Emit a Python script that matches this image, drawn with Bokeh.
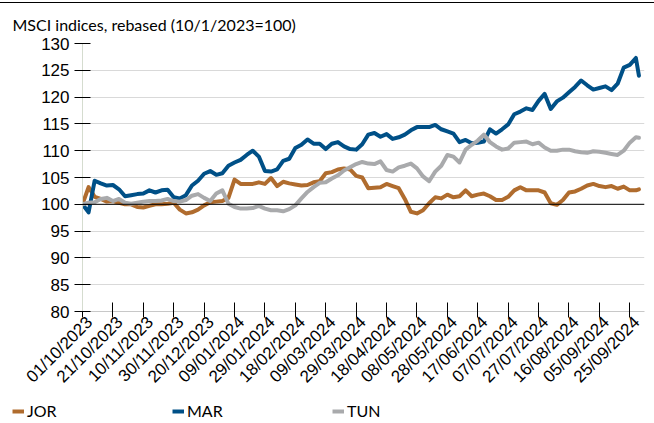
import math
import pandas as pd
from bokeh.plotting import figure
from bokeh.layouts import column
from bokeh.models import (Range1d, FixedTicker, DatetimeTickFormatter, Span, Legend,
                          LegendItem, DatetimeAxis, CustomJSTickFormatter)
from bokeh.embed import file_html
from bokeh.resources import INLINE

# ---------------- data ----------------
dates = list(pd.date_range("2023-10-01", periods=92, freq="4D")) + [pd.Timestamp("2024-10-01")]

jor = [100.0, 103.2, 101.4, 101.0, 100.5, 100.6, 100.3, 100.0, 100.0, 99.5,
       99.4, 99.7, 100.0, 100.0, 100.1, 100.3, 99.0, 98.3, 98.5, 99.0,
       99.8, 100.4, 100.5, 100.6, 101.2, 104.6, 103.8, 103.8, 103.8, 104.1,
       103.8, 104.9, 103.4, 104.2, 103.9, 103.7, 103.5, 103.6, 104.1, 104.3,
       105.8, 106.0, 106.5, 106.7, 106.5, 105.3, 105.0, 103.0, 103.1, 103.2,
       103.8, 103.4, 103.0, 101.0, 98.6, 98.3, 98.9, 100.2, 101.3, 101.1,
       101.8, 101.3, 101.5, 102.6, 101.5, 101.8, 102.0, 101.5, 100.8, 100.8,
       101.4, 102.6, 103.2, 102.6, 102.6, 102.6, 102.2, 100.2, 99.9, 100.8,
       102.2, 102.4, 102.9, 103.5, 103.8, 103.4, 103.2, 103.4, 102.9, 103.3,
       102.6, 102.6, 102.8]

mar = [100.0, 98.5, 104.4, 103.9, 103.5, 103.6, 102.8, 101.5, 101.7, 101.9,
       102.0, 102.6, 102.2, 102.6, 102.7, 101.3, 101.1, 101.7, 103.5, 104.4,
       105.7, 106.2, 105.5, 105.8, 107.2, 107.8, 108.3, 109.2, 110.0, 108.9,
       106.2, 106.1, 106.5, 108.1, 108.5, 110.5, 111.1, 112.1, 111.3, 111.3,
       110.3, 111.3, 111.6, 110.8, 110.3, 110.2, 111.2, 113.0, 113.3, 112.6,
       113.1, 112.2, 112.5, 113.0, 113.8, 114.4, 114.4, 114.4, 114.8, 114.0,
       113.6, 113.2, 111.6, 112.0, 111.4, 111.5, 111.7, 114.0, 113.2, 114.0,
       114.9, 116.8, 117.3, 117.9, 117.6, 119.3, 120.6, 117.8, 119.2, 119.9,
       120.9, 121.9, 123.1, 122.2, 121.4, 121.7, 122.0, 121.3, 122.5, 125.5,
       126.0, 127.3, 124.0]

tun = [100.0, 100.3, 100.4, 101.0, 101.2, 100.6, 101.0, 100.3, 100.1, 100.3,
       100.5, 100.6, 100.6, 100.7, 101.0, 100.6, 100.5, 100.8, 101.6, 101.9,
       101.2, 100.6, 102.0, 102.6, 100.1, 99.5, 99.2, 99.2, 99.3, 99.7,
       99.2, 98.9, 98.9, 98.7, 99.1, 99.8, 101.1, 102.3, 103.2, 104.0,
       104.1, 104.8, 105.4, 106.3, 106.9, 107.5, 107.9, 107.6, 107.5, 108.0,
       106.4, 106.1, 106.9, 107.2, 107.6, 106.7, 105.2, 104.3, 106.1, 107.2,
       109.2, 108.9, 107.8, 110.2, 111.1, 111.9, 113.0, 111.6, 110.8, 110.2,
       110.4, 111.5, 111.6, 111.7, 111.2, 111.5, 110.6, 110.0, 110.0, 110.2,
       110.2, 109.9, 109.7, 109.6, 109.9, 109.8, 109.6, 109.4, 109.2, 110.0,
       111.5, 112.5, 112.4]

series_names = ["JOR", "MAR", "TUN"]
series_colors = ["#B06C2E", "#005087", "#A9AAAC"]

tick_dates = ["2023-10-01", "2023-10-21", "2023-11-10", "2023-11-30", "2023-12-20",
              "2024-01-09", "2024-01-29", "2024-02-18", "2024-03-09", "2024-03-29",
              "2024-04-18", "2024-05-08", "2024-05-28", "2024-06-17", "2024-07-07",
              "2024-07-27", "2024-08-16", "2024-09-05", "2024-09-25"]
y_ticks = [80, 85, 90, 95, 100, 105, 110, 115, 120, 125, 130]

title_text = "MSCI indices, rebased (10/1/2023=100)"

X_START = pd.Timestamp("2023-10-01")
X_END = pd.Timestamp("2024-10-04 16:00")
LABEL_SHIFT = pd.Timedelta(days=4.6)

# ---------------- main chart ----------------
p = figure(width=654, height=397, output_backend="svg", toolbar_location=None,
           x_axis_type="datetime",
           x_range=Range1d(X_START, X_END), y_range=Range1d(80, 130),
           min_border_left=82, min_border_right=10, min_border_top=38, min_border_bottom=89)
p.styles = {"margin-top": "2px", "border-top": "1px solid black"}
p.outline_line_color = None
p.background_fill_color = "white"
p.border_fill_color = "white"

p.title.text = title_text
p.title.align = "left"
p.title.offset = -70
p.title.text_font = "Lato"
p.title.text_font_size = "16px"
p.title.text_font_style = "normal"
p.title.text_color = "black"
p.title.standoff = 19

p.xgrid.grid_line_color = None
p.ygrid.grid_line_color = "#D9D9D9"
p.ygrid.grid_line_width = 1
p.ygrid.ticker = FixedTicker(ticks=y_ticks)

p.yaxis.ticker = FixedTicker(ticks=y_ticks)
p.yaxis.axis_line_color = "#D5DCCF"
p.yaxis.major_tick_line_color = "black"
p.yaxis.major_tick_out = 8
p.yaxis.major_tick_in = 8
p.yaxis.minor_tick_line_color = None
p.yaxis.major_label_text_font = "Liberation Sans"
p.yaxis.major_label_text_font_size = "17px"
p.yaxis.major_label_text_color = "black"
p.yaxis.major_label_standoff = 5

tick_ms = [pd.Timestamp(d).timestamp() * 1000 for d in tick_dates]

# axis with tick marks only
p.xaxis.ticker = FixedTicker(ticks=tick_ms)
p.xaxis.formatter = CustomJSTickFormatter(code="return ''")
p.xaxis.major_label_text_font_size = "0px"
p.xaxis.major_label_standoff = 0
p.xaxis.axis_line_color = "#C8C8C8"
p.xaxis.major_tick_line_color = "black"
p.xaxis.major_tick_in = 9
p.xaxis.major_tick_out = 6
p.xaxis.minor_tick_line_color = None

# axis carrying the rotated labels (slightly shifted, as in the reference)
p.extra_x_ranges = {"lab": Range1d(X_START - LABEL_SHIFT, X_END - LABEL_SHIFT)}
fmt = "%d/%m/%Y"
lab_axis = DatetimeAxis(x_range_name="lab", ticker=FixedTicker(ticks=tick_ms),
                        formatter=DatetimeTickFormatter(days=fmt, months=fmt, years=fmt,
                                                        hours=fmt, minutes=fmt, seconds=fmt,
                                                        milliseconds=fmt, microseconds=fmt,
                                                        minsec=fmt, hourmin=fmt,
                                                        strip_leading_zeros=False))
lab_axis.axis_line_color = None
lab_axis.major_tick_line_color = None
lab_axis.minor_tick_line_color = None
lab_axis.major_tick_in = 0
lab_axis.major_tick_out = 0
lab_axis.major_label_orientation = math.pi / 4
lab_axis.major_label_text_font = "Liberation Sans"
lab_axis.major_label_text_font_size = "17px"
lab_axis.major_label_text_color = "black"
lab_axis.major_label_standoff = 2
p.add_layout(lab_axis, "below")

p.add_layout(Span(location=100, dimension="width", line_color="black", line_width=1))

for vals, col in zip([jor, mar, tun], series_colors):
    p.line(dates, vals, line_color=col, line_width=4, line_join="round", line_cap="round")

# ---------------- legend strip (own canvas, so nothing is clipped) ----------------
leg = figure(width=654, height=23, output_backend="svg", toolbar_location=None,
             x_axis_location=None, y_axis_location=None,
             x_range=Range1d(0, 1), y_range=Range1d(0, 1),
             min_border_left=0, min_border_right=0, min_border_top=0, min_border_bottom=0,
             outline_line_color=None, background_fill_color="white", border_fill_color="white")
leg.grid.visible = False
for fig in (p, leg):
    try:
        fig.frame_align = False
    except Exception:
        pass

items = []
for name, vals, col in zip(series_names, [jor, mar, tun], series_colors):
    # same series, outside this strip's ranges: only its legend swatch is seen
    r = leg.line(dates, vals, line_color=col, line_width=4)
    items.append(LegendItem(label=name, renderers=[r]))
legend = Legend(items=items, orientation="horizontal", location=(12, 2),
                glyph_width=12, glyph_height=16, label_height=16, label_width=140,
                label_standoff=3, spacing=5, padding=0, margin=0,
                border_line_color=None, background_fill_alpha=0,
                label_text_font="Lato", label_text_font_size="16px",
                label_text_color="black")
leg.add_layout(legend, "center")

layout = column(p, leg, spacing=0)
open("out.html", "w").write(file_html(layout, INLINE))
